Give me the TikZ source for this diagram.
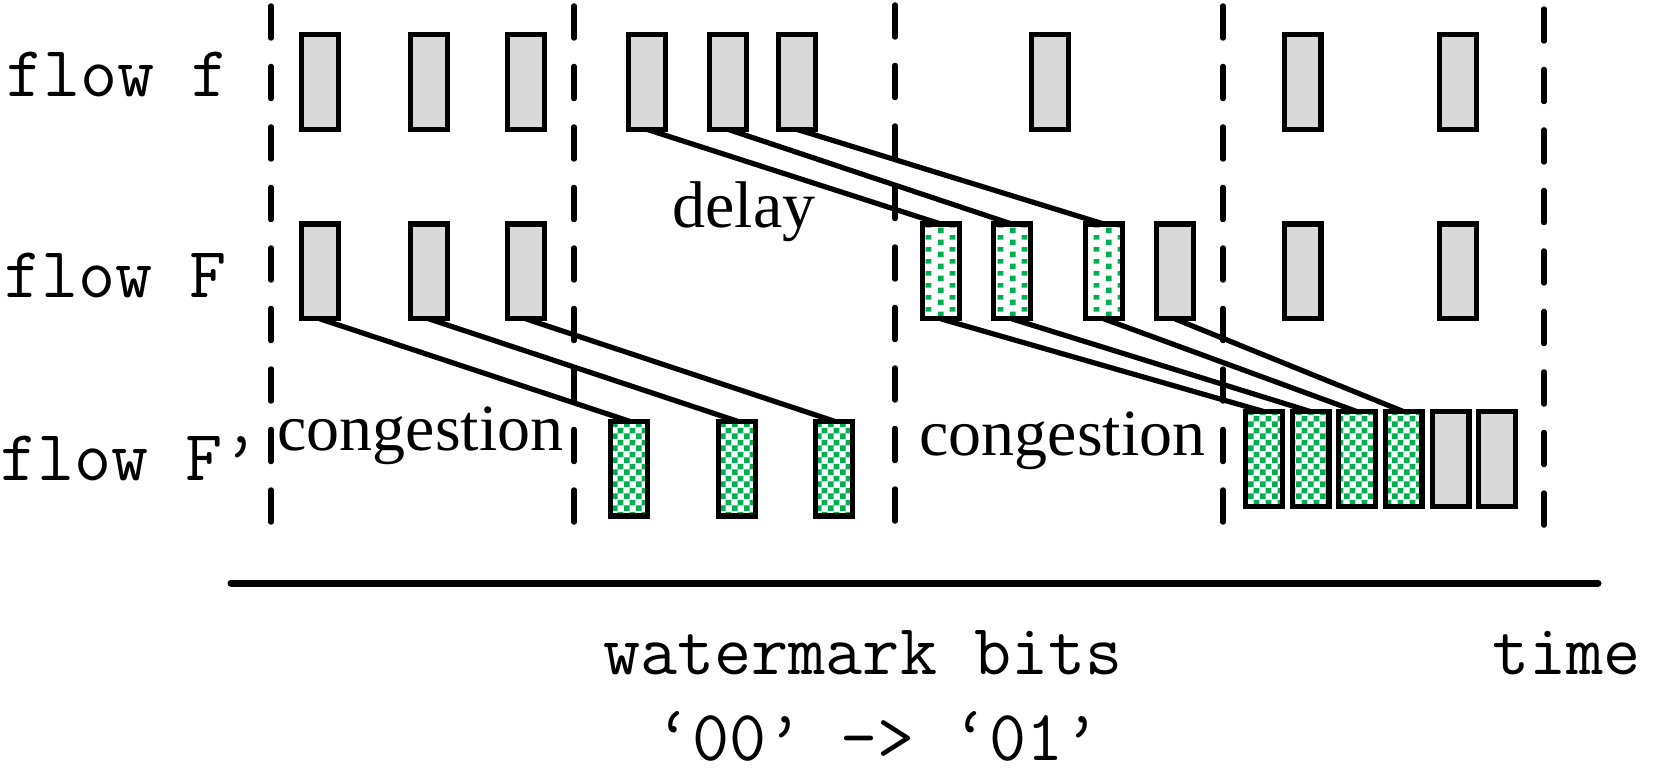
\documentclass[tikz,border=0pt]{standalone}
\usepackage{fontspec}
\newfontfamily\tnr{Liberation Serif}
\usetikzlibrary{patterns}
\definecolor{boxgray}{HTML}{D9D9D9}
\definecolor{pgreen}{HTML}{00B050}
\pgfdeclarepatternformonly{mychecker}{\pgfpointorigin}{\pgfqpoint{6pt}{6pt}}{\pgfqpoint{6pt}{6pt}}{%
  \pgfpathrectangle{\pgfpointorigin}{\pgfqpoint{3pt}{3pt}}%
  \pgfpathrectangle{\pgfqpoint{3pt}{3pt}}{\pgfqpoint{3pt}{3pt}}%
  \pgfusepath{fill}}
\pgfdeclarepatternformonly{mydots}{\pgfpointorigin}{\pgfqpoint{12pt}{6pt}}{\pgfqpoint{12pt}{6pt}}{%
  \pgfpathrectangle{\pgfqpoint{1pt}{1pt}}{\pgfqpoint{2.9pt}{2.9pt}}%
  \pgfpathrectangle{\pgfqpoint{7pt}{4pt}}{\pgfqpoint{2.9pt}{2.9pt}}%
  \pgfusepath{fill}}
\begin{document}
\begin{tikzpicture}[x=0.5pt,y=-0.5pt,
  pkt/.style={draw=black, line width=2.6pt, minimum width=18.4pt, minimum height=47.4pt, inner sep=0pt, outer sep=0pt},
  grayb/.style={pkt, fill=boxgray},
  dotb/.style={pkt, preaction={fill=white}, pattern=mydots, pattern color=pgreen},
  chkb/.style={pkt, preaction={fill=white}, pattern=mychecker, pattern color=pgreen},
  divider/.style={line width=2.75pt, line cap=round, dash pattern=on 16pt off 14.25pt},
  axisline/.style={line width=3.5pt, line cap=round},
  conn/.style={line width=2.6pt},
  monolbl/.style={font=\fontsize{36}{36}\selectfont\ttfamily, anchor=base west, inner sep=0pt},
  seriflbl/.style={font=\fontsize{33}{33}\selectfont\tnr, anchor=base west, inner sep=0pt}]
\useasboundingbox (0,0) rectangle (1660,775);
% dividers
\foreach \xx/\yt/\yb in {271/6/528, 574/6/530, 895/5/528, 1223/6/529, 1544/9/533}
  \draw[divider] (\xx,\yt) -- (\xx,\yb);
% time axis
\coordinate (axL) at (231,583);
\coordinate (axR) at (1598,583);
\draw[axisline] (axL) -- (axR);
% flow f
\node[grayb] (f1) at (320,82) {};
\node[grayb] (f2) at (429,82) {};
\node[grayb] (f3) at (526,82) {};
\node[grayb] (f4) at (647,82) {};
\node[grayb] (f5) at (728,82) {};
\node[grayb] (f6) at (797,82) {};
\node[grayb] (f7) at (1050,82) {};
\node[grayb] (f8) at (1302.5,82) {};
\node[grayb] (f9) at (1458,82) {};
% flow F
\node[grayb] (F1) at (320,271.5) {};
\node[grayb] (F2) at (429,271.5) {};
\node[grayb] (F3) at (526,271.5) {};
\node[dotb] (F4) at (941,271.5) {};
\node[dotb] (F5) at (1012,271.5) {};
\node[dotb] (F6) at (1104,271.5) {};
\node[grayb] (F7) at (1175,271.5) {};
\node[grayb] (F8) at (1302.5,271.5) {};
\node[grayb] (F9) at (1458,271.5) {};
% flow F'
\node[chkb] (G1) at (629,468.5) {};
\node[chkb] (G2) at (737,468.5) {};
\node[chkb] (G3) at (834,468.5) {};
\node[chkb] (G4) at (1264,459) {};
\node[chkb] (G5) at (1310.5,459) {};
\node[chkb] (G6) at (1357,459) {};
\node[chkb] (G7) at (1403.5,459) {};
\node[grayb] (G8) at (1450.5,459) {};
\node[grayb] (G9) at (1497,459) {};
% connectors
\draw[conn] (f4.south) -- (F4.north);
\draw[conn] (f5.south) -- (F5.north);
\draw[conn] (f6.south) -- (F6.north);
\draw[conn] (F1.south) -- (G1.north);
\draw[conn] (F2.south) -- (G2.north);
\draw[conn] (F3.south) -- (G3.north);
\draw[conn] (F4.south) -- (G4.north);
\draw[conn] (F5.south) -- (G5.north);
\draw[conn] (F6.south) -- (G6.north);
\draw[conn] (F7.south) -- (G7.north);
% labels
\node[monolbl] (lf) at (6,97) {flow f};
\node[monolbl] (lF) at (4,298) {flow F};
\node[monolbl] (lFp) at (0,480) {flow F’};
\node[seriflbl] (dly) at (672,228) {delay};
\node[seriflbl] (cg1) at (277,450) {congestion};
\node[seriflbl] (cg2) at (919,455) {congestion};
\node[monolbl] (wm) at (603,674) {watermark bits};
\node[monolbl] (tm) at (1492,674) {time};
\node[monolbl] (bits) at (655,760) {‘00’ -> ‘01’};
\end{tikzpicture}
\end{document}
